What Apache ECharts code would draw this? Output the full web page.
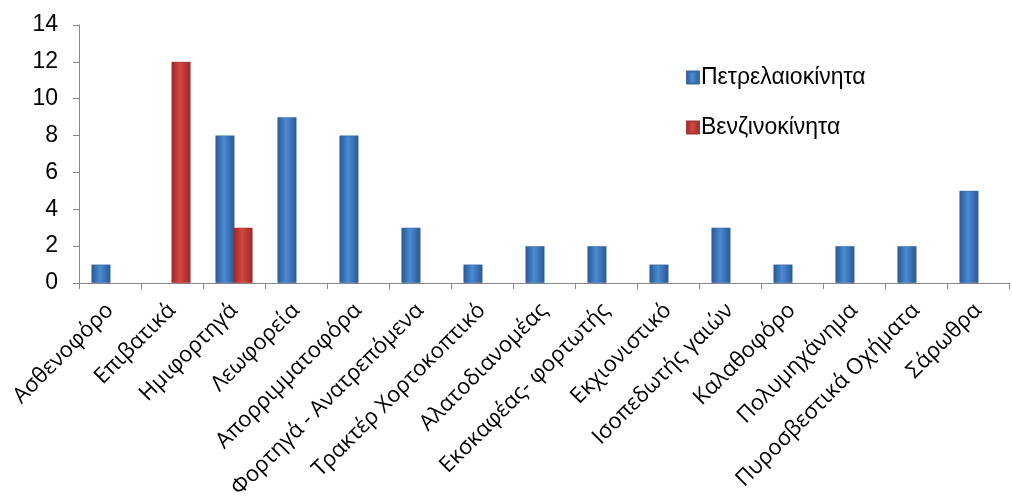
<!DOCTYPE html>
<html>
<head>
<meta charset="utf-8">
<script src="https://cdn.jsdelivr.net/npm/echarts@6/dist/echarts.min.js"></script>
<style>
  html, body { margin: 0; padding: 0; background: #fff; }
  #main { width: 1012px; height: 503px; }
</style>
</head>
<body>
<div id="main"></div>
<script>
// κατηγορίες οχημάτων
const categories = ['Ασθενοφόρο', 'Επιβατικά', 'Ημιφορτηγά', 'Λεωφορεία', 'Απορριμματοφόρα',
  'Φορτηγά - Ανατρεπόμενα', 'Τρακτέρ Χορτοκοπτικό', 'Αλατοδιανομέας', 'Εκσκαφέας- φορτωτής',
  'Εκχιονιστικό', 'Ισοπεδωτής γαιών', 'Καλαθοφόρο', 'Πολυμηχάνημα', 'Πυροσβεστικά Οχήματα', 'Σάρωθρα']
const dieselName = 'Πετρελαιοκίνητα'
const petrolName = 'Βενζινοκίνητα'
const diesel = [1, null, 8, 9, 8, 3, 1, 2, 2, 1, 3, 1, 2, 2, 5]
const petrol = [null, 12, 3, null, null, null, null, null, null, null, null, null, null, null, null]
const yTicks = { min: 0, max: 14, interval: 2 }

function cyl (dark, light) {
  return new echarts.graphic.LinearGradient(0, 0, 1, 0, [
    { offset: 0, color: dark },
    { offset: 0.45, color: light },
    { offset: 1, color: dark }
  ])
}

const myChart = echarts.init(document.getElementById('main'))
myChart.setOption({
  animation: false,
  grid: { left: 79, right: 3, top: 25, bottom: 220, containLabel: false },
  legend: {
    orient: 'vertical',
    left: 681,
    top: 61,
    itemGap: 27,
    itemWidth: 12,
    itemHeight: 12,
    icon: 'rect',
    textStyle: { fontFamily: 'Liberation Sans', fontSize: 23, color: '#000', padding: [0, 0, 0, -3] },
    data: [dieselName, petrolName]
  },
  xAxis: {
    type: 'category',
    data: categories,
    axisLine: { lineStyle: { color: '#888', width: 1 } },
    axisTick: { show: true, length: 6, lineStyle: { color: '#888' } },
    axisLabel: {
      interval: 0,
      rotate: 45,
      margin: 24,
      fontFamily: 'Open Sans',
      fontSize: 22,
      color: '#000'
    }
  },
  yAxis: {
    type: 'value',
    min: yTicks.min,
    max: yTicks.max,
    interval: yTicks.interval,
    axisLine: { show: true, lineStyle: { color: '#888', width: 1 } },
    axisTick: { show: true, length: 6, lineStyle: { color: '#888' } },
    splitLine: { show: false },
    axisLabel: { margin: 21, fontFamily: 'Liberation Sans', fontSize: 23, color: '#000' }
  },
  series: [
    {
      name: dieselName,
      type: 'bar',
      data: diesel,
      barWidth: 19,
      barGap: '-5%',
      itemStyle: { color: cyl('#2a5790', '#4a8bd4'), borderColor: '#3b6aa3', borderWidth: 0.5 }
    },
    {
      name: petrolName,
      type: 'bar',
      data: petrol,
      barWidth: 19,
      itemStyle: { color: cyl('#962a28', '#d8463f'), borderColor: '#a33a36', borderWidth: 0.5 }
    }
  ]
})
</script>
</body>
</html>
